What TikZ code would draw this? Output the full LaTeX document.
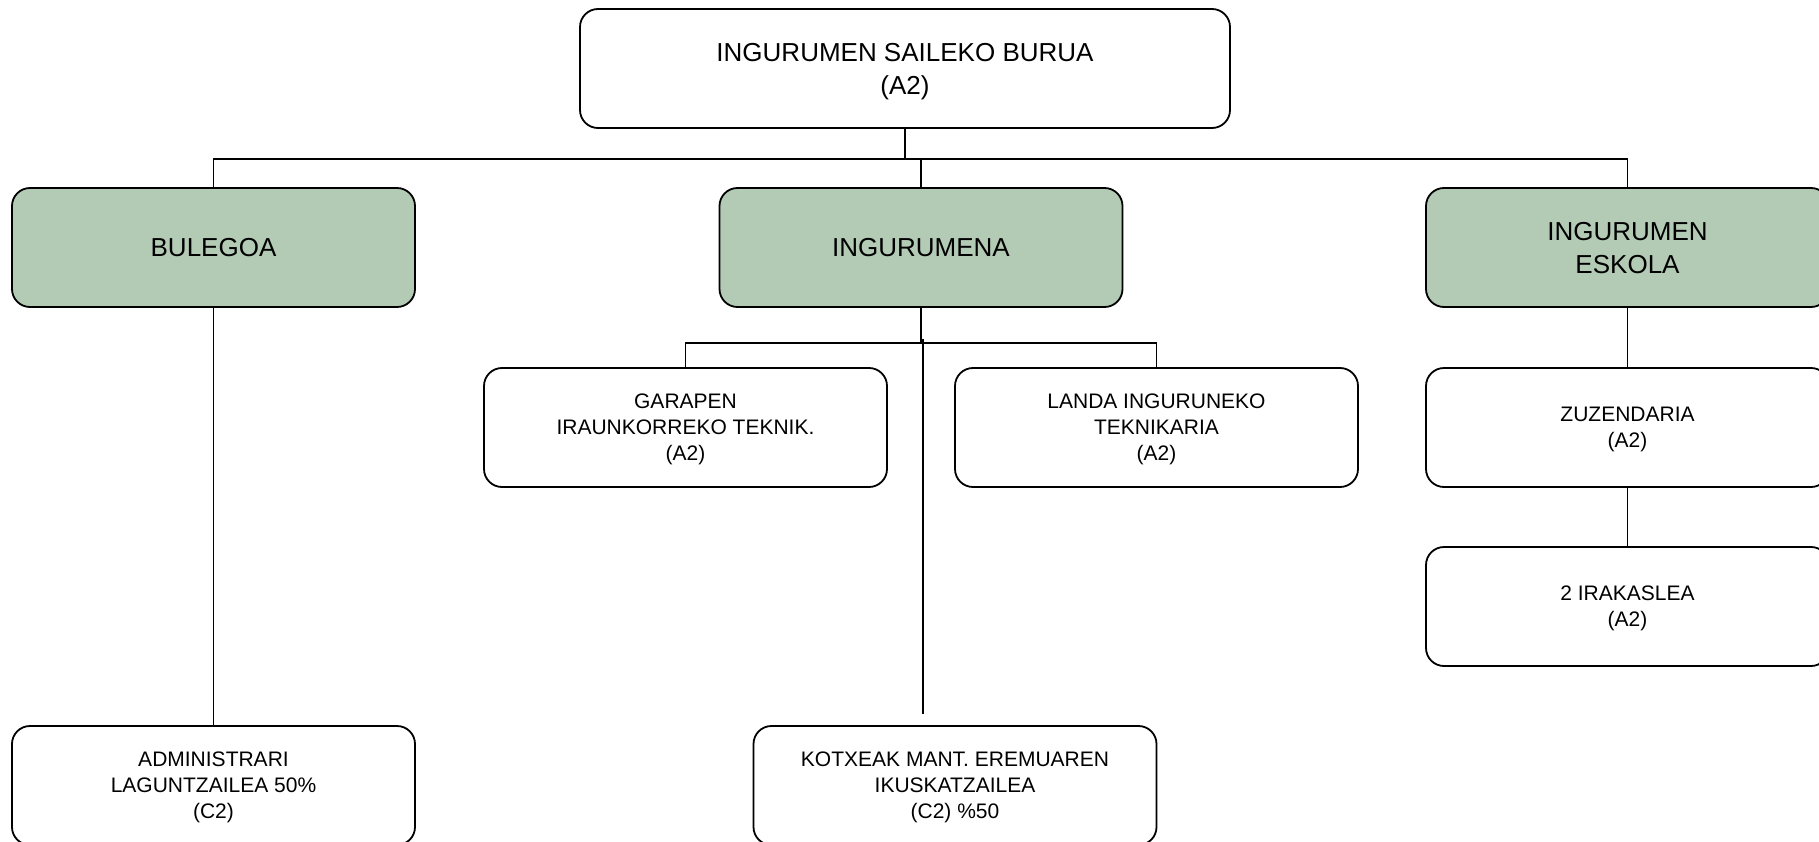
\documentclass[tikz,border=0pt]{standalone}
\usepackage{fontspec}
\setmainfont{Liberation Sans}
\definecolor{boxgreen}{RGB}{179,202,181}
\tikzset{
  orgbox/.style={draw=black, line width=1.8pt, rounded corners=18pt, fill=white,
    minimum width=403pt, minimum height=119pt, inner sep=0pt, align=center,
    text depth=-2pt, font=\fontsize{21}{26}\selectfont},
  greenbox/.style={orgbox, fill=boxgreen, font=\fontsize{26}{33}\selectfont},
  topbox/.style={orgbox, minimum width=650pt, font=\fontsize{26}{33}\selectfont},
  conn/.style={draw=black, line width=1.7pt}
}
\begin{document}
\begin{tikzpicture}[x=1pt,y=-1pt]
\useasboundingbox (0,0) rectangle (1819,842);
\clip (0,0) rectangle (1819,842);
\fill[white] (0,0) rectangle (1819,842);
% nodes
\node[topbox] (top) at (905,68.5) {INGURUMEN SAILEKO BURUA\\(A2)};
\node[greenbox] (bul) at (213.5,247.5) {BULEGOA};
\node[greenbox] (ing) at (921,247.5) {INGURUMENA};
\node[greenbox] (esk) at (1627.5,247.5) {INGURUMEN\\ESKOLA};
\node[orgbox] (gar) at (685.5,427.5) {GARAPEN\\IRAUNKORREKO TEKNIK.\\(A2)};
\node[orgbox] (lan) at (1156.5,427.5) {LANDA INGURUNEKO\\TEKNIKARIA\\(A2)};
\node[orgbox] (zuz) at (1627.5,427.5) {ZUZENDARIA\\(A2)};
\node[orgbox] (ira) at (1627.5,606.5) {2 IRAKASLEA\\(A2)};
\node[orgbox] (adm) at (213.5,785.5) {ADMINISTRARI\\LAGUNTZAILEA 50\%\\(C2)};
\node[orgbox] (kot) at (955,785.5) {KOTXEAK MANT. EREMUAREN\\IKUSKATZAILEA\\(C2) \%50};
% connectors
\coordinate (bus) at (905,159);
\coordinate (br) at (921,343);
\coordinate (kotend) at (923,714);
\draw[conn] (top.south) -- (bus);
\draw[conn] (bul.north) |- (bus) -| (esk.north);
\draw[conn] (bus -| ing.north) -- (ing.north);
\draw[conn] (bul.south) -- (adm.north);
\draw[conn] (ing.south) -- (br);
\draw[conn] (gar.north) |- (br) -| (lan.north);
\draw[conn] (kotend |- br) ++(0,-4) -- (kotend);
\draw[conn] (esk.south) -- (zuz.north);
\draw[conn] (zuz.south) -- (ira.north);
\end{tikzpicture}
\end{document}
